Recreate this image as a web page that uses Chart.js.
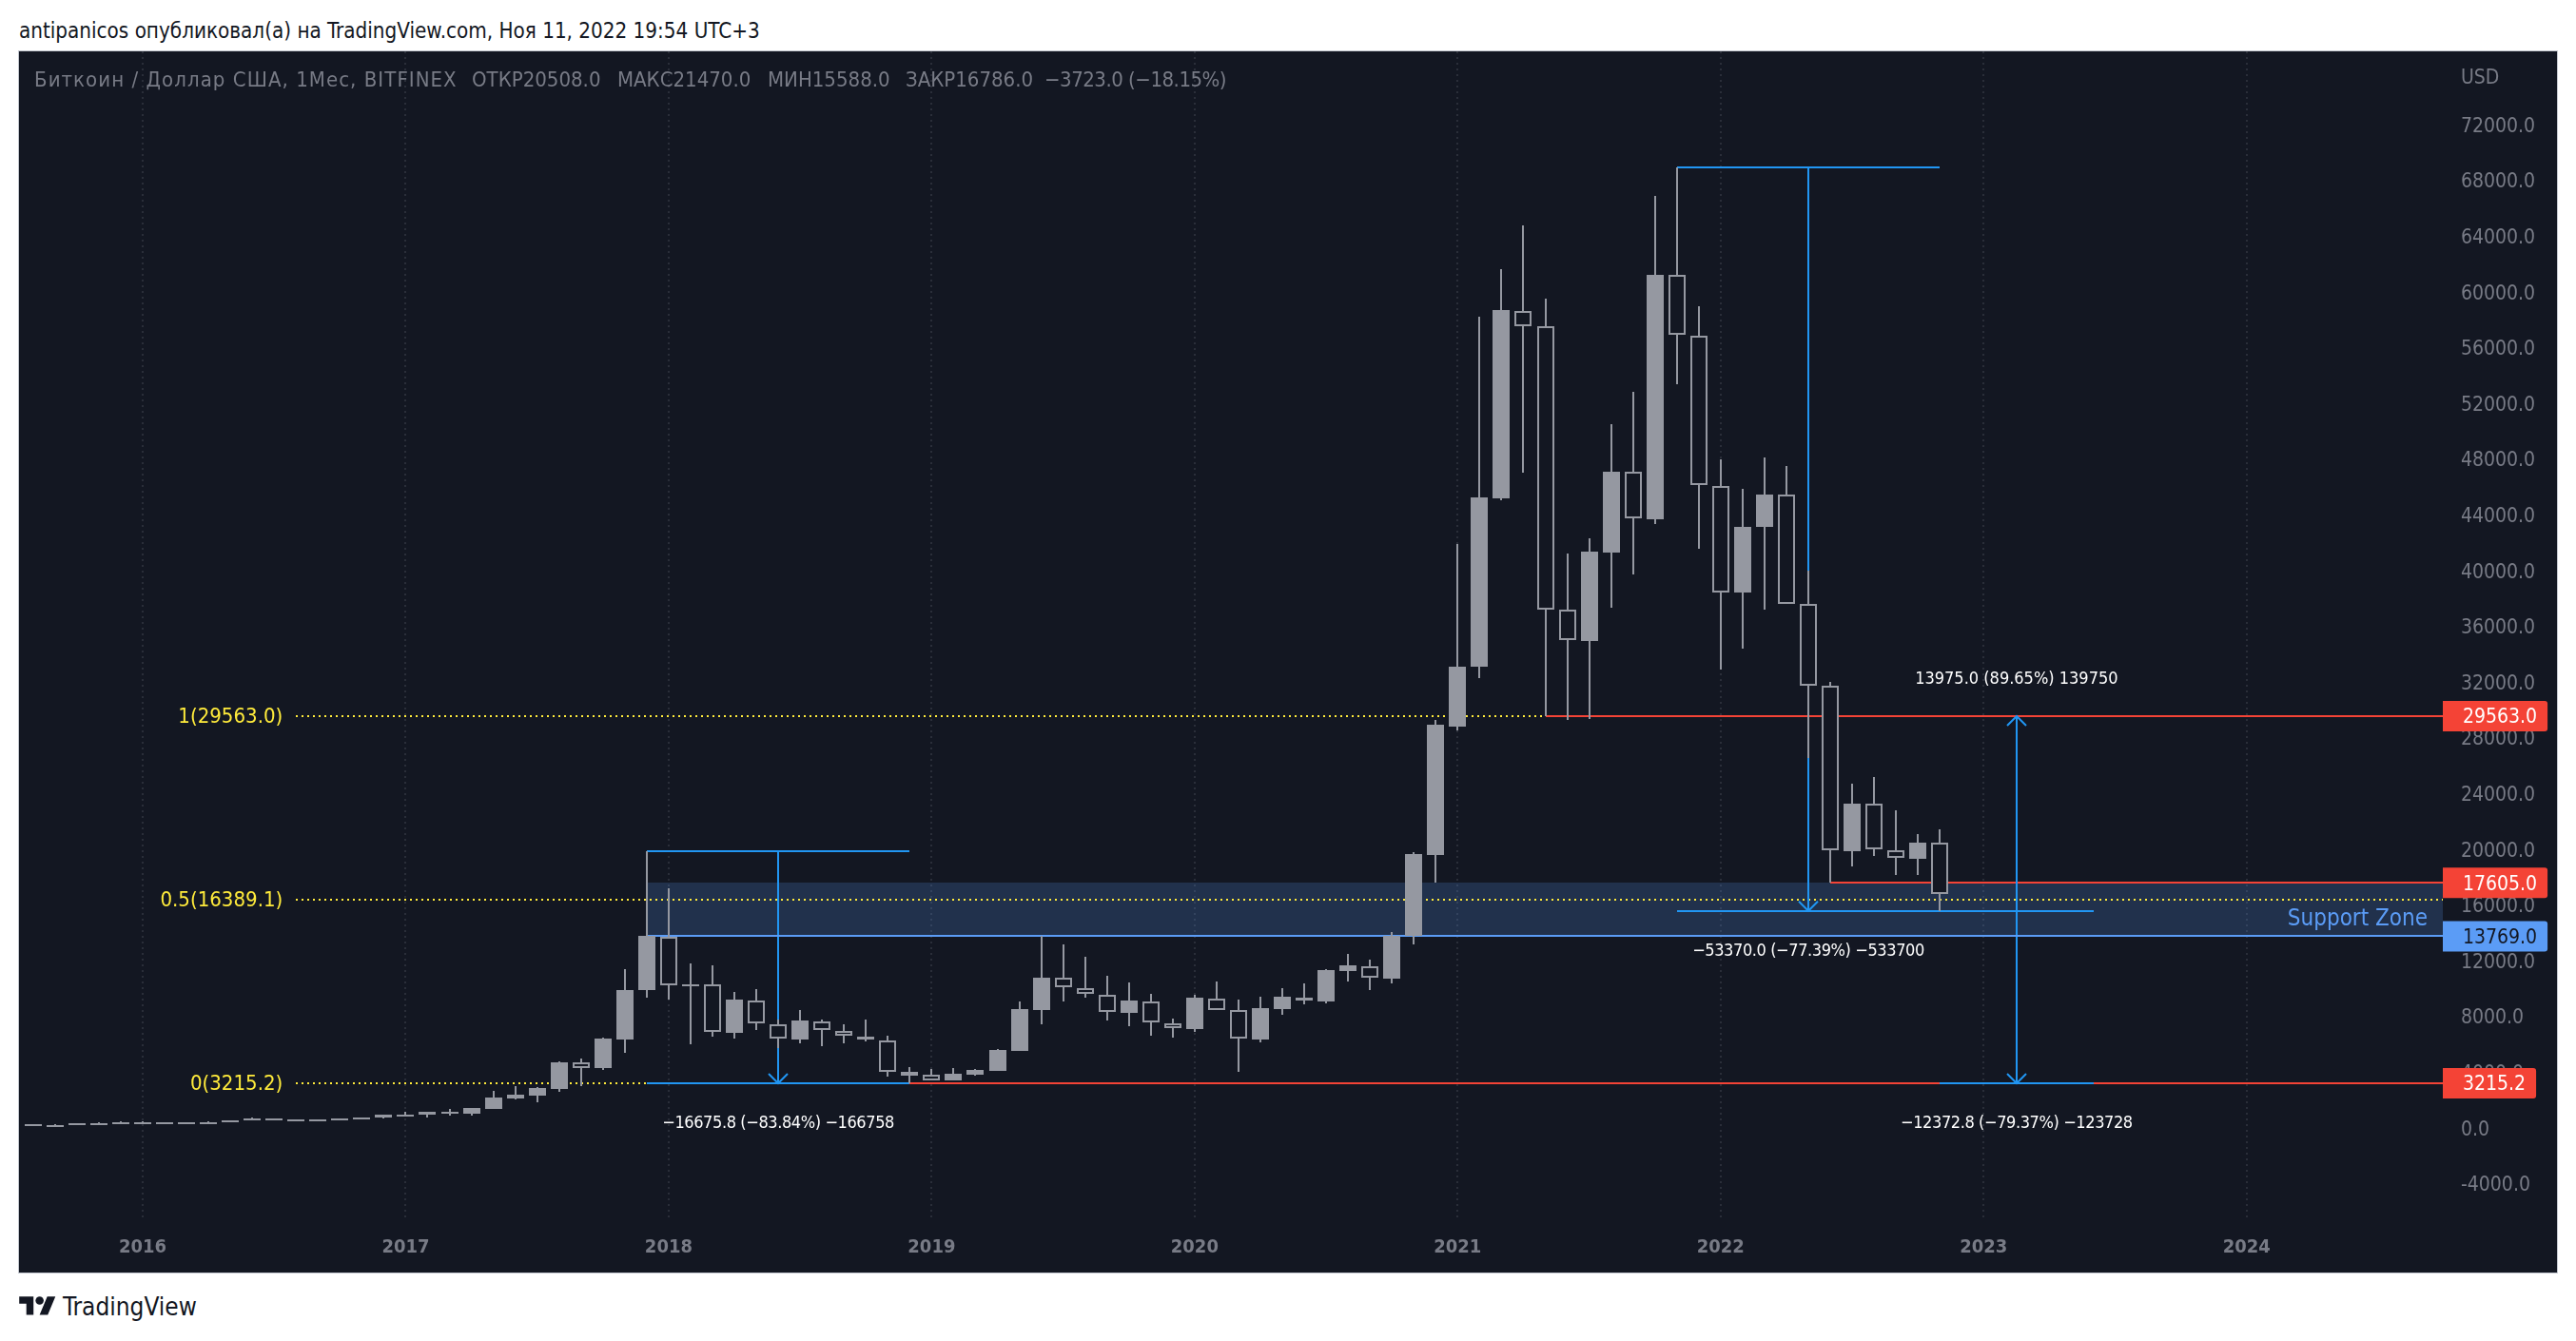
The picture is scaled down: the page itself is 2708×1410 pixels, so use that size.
<!DOCTYPE html>
<html>
<head>
<meta charset="utf-8">
<title>BTCUSD</title>
<script src="https://cdn.jsdelivr.net/npm/chart.js@4/dist/chart.umd.min.js"></script>
<style>
    html, body { margin: 0; background: #fff; width: 2708px; height: 1410px; overflow: hidden; font-family: "DejaVu Sans Condensed", "DejaVu Sans", sans-serif; }
    #autor { position: absolute; left: 20px; top: 18px; font-size: 22.25px; line-height: 28px; color: #131722; white-space: nowrap; }
    #painel { position: absolute; left: 20px; top: 54px; width: 2668px; height: 1284px; background: #131722; outline: 1px solid #c4c8d0; }
    #painel canvas { position: absolute; left: 0; top: 0; }
    #legenda { position: absolute; left: 16px; top: 16px; font-size: 22px; line-height: 28px; color: #787b86; white-space: pre; }
    #legenda span { position: absolute; top: 0; }
    #moeda { position: absolute; left: 2567px; top: 14px; font-size: 21px; line-height: 26px; color: #787b86; }
    #marca { position: absolute; left: 20px; top: 1358px; height: 32px; display: flex; align-items: center; color: #131722; font-size: 26px; }
    #marca svg { width: 39px; height: 30px; margin-right: 7px; }
</style>
</head>
<body>
<div id="autor">antipanicos опубликовал(а) на TradingView.com, Ноя 11, 2022 19:54 UTC+3</div>
<div id="painel">
    <canvas id="grafico" width="2668" height="1284"></canvas>
    <div id="legenda"><span style="left:0;letter-spacing:1.05px">Биткоин / Доллар США, 1Мес, BITFINEX</span><span style="left:460px">ОТКР20508.0</span><span style="left:613px">МАКС21470.0</span><span style="left:771px">МИН15588.0</span><span style="left:916px">ЗАКР16786.0</span><span style="left:1062px;letter-spacing:-0.5px">−3723.0 (−18.15%)</span></div>
    <div id="moeda">USD</div>
</div>
<div id="marca">
    <svg viewBox="0 0 36 28"><path fill="#131722" d="M14 22H7V11H0V4h14v18zM28 22h-8l7.5-18h8L28 22z"/><circle fill="#131722" cx="20" cy="8" r="4"/></svg>
    <span>TradingView</span>
</div>
<script>
// monthly candles, Aug 2015 to Nov 2022
const firstMonth = -5; // months counted from Jan 2016
const opens = [285, 230, 236, 315, 377, 430, 370, 437, 416, 448, 530, 670, 624, 574, 609, 700, 740, 963, 970, 1190,
    1055, 1373, 2124, 2351, 2829, 4694, 4330, 6380, 9870, 13700, 10200, 10293, 6857, 9178, 7472, 6380, 7676, 6994, 6561, 6311,
    3786, 3809, 3445, 3832, 4127, 5560, 8496, 10770, 10065, 9587, 8290, 9110, 7540, 7130, 9314, 8495, 6380, 8563, 9382, 9110,
    11294, 11635, 10748, 13769, 19598, 28816, 33079, 45220, 58655, 57522, 37180, 34967, 41307, 47081, 43708, 61218, 56875, 46110, 38420, 43115,
    45463, 37584, 31718, 19869, 23258, 19967, 19357, 20508];
const highs = [285, 250, 330, 390, 470, 470, 445, 450, 470, 550, 780, 680, 630, 620, 720, 745, 990, 1150, 1200, 1350,
    1450, 2647, 3011, 2920, 4763, 4968, 6469, 11385, 19891, 17208, 11794, 11658, 9746, 9951, 7813, 8450, 7790, 7449, 7790, 6607,
    4355, 4218, 4287, 4218, 5650, 9064, 13800, 13159, 12295, 10930, 10429, 9633, 7858, 9565, 10497, 9200, 9428, 10042, 10383, 11408,
    12499, 12067, 14069, 19802, 29301, 41927, 58224, 61650, 64780, 59519, 41253, 42332, 50535, 52855, 66911, 68958, 58979, 47998, 45894, 48133,
    47513, 40012, 31986, 24721, 25184, 22795, 21088, 21470];
const lows = [200, 220, 236, 300, 350, 350, 370, 385, 416, 440, 530, 610, 480, 574, 600, 700, 720, 880, 750, 895,
    890, 1340, 2055, 1873, 2624, 3034, 4194, 5422, 9383, 9246, 6038, 6561, 6425, 7062, 5765, 6107, 5880, 6107, 6243, 3718,
    3215.2, 3400, 3400, 3786, 4127, 5560, 7472, 9110, 9383, 7745, 7312, 6630, 6493, 6926, 8495, 4059, 6152, 8154, 8905, 8973,
    10520, 9906, 10406, 13182, 17618, 28546, 32323, 45057, 47054, 29571, 29301, 29355, 37314, 39715, 43331, 53395, 41604, 32917, 34428, 37179,
    37600, 26574, 17605, 18772, 19552, 18187, 18187, 15588];
const closes = [230, 236, 315, 377, 430, 370, 437, 416, 448, 530, 670, 624, 574, 609, 700, 740, 963, 970, 1168, 1075,
    1441, 2192, 2397, 2874, 4694, 4330, 6400, 9883, 13769, 10247, 10320, 6903, 9200, 7494, 6425, 7700, 7017, 6607, 6334, 4013,
    4013, 3445, 3877, 4150, 5606, 8518, 10770, 10088, 9610, 8313, 9132, 7563, 7153, 9337, 8495, 6425, 8586, 9405, 9132, 11340,
    11658, 10770, 13773, 19665, 28950, 33132, 45273, 58710, 57522, 37180, 35021, 41388, 47108, 43762, 61245, 56902, 46137, 38447, 43169, 45490,
    37611, 31757, 19918, 23282, 20040, 19382, 20479, 16786];

const yearTicks = [0, 12, 24, 36, 48, 60, 72, 84, 96];
const yearLabels = ['2016', '2017', '2018', '2019', '2020', '2021', '2022', '2023', '2024'];
const priceTicks = [-4000, 0, 4000, 8000, 12000, 16000, 20000, 24000, 28000, 32000, 36000, 40000, 44000, 48000, 52000, 56000, 60000, 64000, 68000, 72000];

// visible window of the scales
const xMin = -5.64;
const xMax = 104.95;
const yMin = -6410;
const yMax = 77276;

// fib levels and horizontal price levels
const fibValues = [29563.0, 16389.1, 3215.2];
const fibLabels = ['1(29563.0)', '0.5(16389.1)', '0(3215.2)'];
const fibStart = 7;
const zoneTop = 17605.0;
const zoneBottom = 13769.0;
const zoneStart = 23;
const redLevels = [29563.0, 17605.0, 3215.2];
const redStarts = [64, 77, 35];

// measure tools: horizontal segments [x1, x2, price], arrows [x, from, to, both ends]
const measureLines = [[23, 35, 19891], [23, 35, 3215.2], [70, 82, 68958], [70, 89, 15588], [82, 89, 3215.2]];
const arrows = [[29, 19891, 3215.2, false], [76, 68958, 15588, false], [85.5, 29563, 3215.2, true]];
const measureTexts = ['−16675.8 (−83.84%) −166758', '−53370.0 (−77.39%) −533700', '13975.0 (89.65%) 139750', '−12372.8 (−79.37%) −123728'];
const measureTextX = [29, 76, 85.5, 85.5];
const measureTextY = [300, 12680, 32200, 300];

const zoneText = 'Support Zone';
const zoneTextY = 14950;

const cinza = '#9598a1';
const fundo = '#131722';
const azul = '#2196f3';
const azulZona = '#5b9cf6';
const vermelho = '#f44336';
const amarelo = '#ffeb3b';
const fonte = '"DejaVu Sans Condensed", "DejaVu Sans", sans-serif';

const xs = opens.map((_, i) => firstMonth + i);
const subiu = opens.map((o, i) => closes[i] >= o);

function linha(pontos, cor, extra) {
    return Object.assign({
        type: 'line',
        data: pontos,
        borderColor: cor,
        borderWidth: 2,
        pointRadius: 0,
        fill: false,
        tension: 0,
        order: 3
    }, extra);
}

const datasets = [
    { label: 'corpo', data: xs.map((x, i) => ({ x: x, y: [opens[i], closes[i]] })), barThickness: 18, grouped: false, order: 0,
      backgroundColor: subiu.map(s => s ? cinza : fundo), borderColor: cinza, borderWidth: subiu.map(s => s ? 0 : 2), borderSkipped: false, inflateAmount: 0 },
    { label: 'pavio', data: xs.map((x, i) => ({ x: x, y: [lows[i], highs[i]] })), barThickness: 2, grouped: false, order: 1,
      backgroundColor: cinza, borderWidth: 0, inflateAmount: 0 }
];

// zone fill sits between two neighbouring datasets
datasets.push(linha([{ x: zoneStart, y: zoneTop }, { x: xMax, y: zoneTop }], 'rgba(0,0,0,0)', { fill: '+1', backgroundColor: 'rgba(91,156,246,0.2)', order: 6 }));
datasets.push(linha([{ x: zoneStart, y: zoneBottom }, { x: xMax, y: zoneBottom }], azulZona, { order: 3 }));

fibValues.forEach(v => {
    datasets.push(linha([{ x: fibStart, y: v }, { x: xMax, y: v }], amarelo, { borderDash: [2, 4], order: 5 }));
});
redLevels.forEach((v, i) => {
    datasets.push(linha([{ x: redStarts[i], y: v }, { x: xMax, y: v }], vermelho, { order: 4 }));
});
measureLines.forEach(m => {
    datasets.push(linha([{ x: m[0], y: m[2] }, { x: m[1], y: m[2] }], azul, { order: 3 }));
});
arrows.forEach(a => {
    datasets.push(linha([{ x: a[0], y: a[1] }, { x: a[0], y: a[2] }], azul, { order: 3 }));
});

// keeps marks on whole pixels so they stay sharp
const encaixe = {
    id: 'encaixe',
    afterDatasetsUpdate(chart) {
        chart.data.datasets.forEach((ds, d) => {
            chart.getDatasetMeta(d).data.forEach(el => {
                el.x = Math.round(el.x);
                el.y = Math.round(el.y);
                if (el.base !== undefined) {
                    el.base = Math.round(el.base);
                    if (d === 0 && Math.abs(el.base - el.y) < 2) {
                        el.base = el.y + 2;
                    }
                }
            });
        });
    }
};

const pontas = {
    id: 'pontas',
    beforeDatasetDraw(chart, args) {
        if (args.index !== 1) {
            return;
        }
        const ctx = chart.ctx;
        ctx.save();
        ctx.strokeStyle = azul;
        ctx.lineWidth = 2;
        arrows.forEach(a => {
            const x = Math.round(chart.scales.x.getPixelForValue(a[0]));
            const fim = chart.scales.y.getPixelForValue(a[2]);
            ctx.beginPath();
            ctx.moveTo(x - 10, fim - 10);
            ctx.lineTo(x, fim);
            ctx.lineTo(x + 10, fim - 10);
            ctx.stroke();
            if (a[3]) {
                const ini = chart.scales.y.getPixelForValue(a[1]);
                ctx.beginPath();
                ctx.moveTo(x - 10, ini + 10);
                ctx.lineTo(x, ini);
                ctx.lineTo(x + 10, ini + 10);
                ctx.stroke();
            }
        });
        ctx.restore();
    }
};

function etiqueta(ctx, y, direita, valor, corFundo, corTexto) {
    const texto = valor.toFixed(1);
    ctx.font = '21px ' + fonte;
    const largura = ctx.measureText(texto).width + 32;
    ctx.fillStyle = corFundo;
    ctx.beginPath();
    ctx.roundRect(direita, y - 16, largura, 32, [0, 3, 3, 0]);
    ctx.fill();
    ctx.fillStyle = corTexto;
    ctx.textAlign = 'left';
    ctx.fillText(texto, direita + 21, y + 2);
}

const textos = {
    id: 'textos',
    afterDraw(chart) {
        const ctx = chart.ctx;
        const sx = chart.scales.x;
        const sy = chart.scales.y;
        ctx.save();
        ctx.textBaseline = 'middle';

        ctx.font = '22px ' + fonte;
        ctx.fillStyle = amarelo;
        ctx.textAlign = 'right';
        fibLabels.forEach((t, i) => {
            ctx.fillText(t, sx.getPixelForValue(fibStart) - 14, sy.getPixelForValue(fibValues[i]) + 1);
        });

        ctx.font = '18px ' + fonte;
        ctx.fillStyle = '#ffffff';
        ctx.textAlign = 'center';
        measureTexts.forEach((t, i) => {
            ctx.letterSpacing = t.startsWith('−') ? '-0.4px' : '0px';
            ctx.fillText(t, sx.getPixelForValue(measureTextX[i]), sy.getPixelForValue(measureTextY[i]));
        });
        ctx.letterSpacing = '0px';

        ctx.font = '24px ' + fonte;
        ctx.fillStyle = azulZona;
        ctx.textAlign = 'right';
        ctx.fillText(zoneText, chart.chartArea.right - 16, sy.getPixelForValue(zoneTextY));

        const direita = chart.chartArea.right;
        etiqueta(ctx, sy.getPixelForValue(29563.0), direita, 29563.0, vermelho, '#ffffff');
        etiqueta(ctx, sy.getPixelForValue(17605.0), direita, 17605.0, vermelho, '#ffffff');
        etiqueta(ctx, sy.getPixelForValue(13769.0), direita, 13769.0, azulZona, fundo);
        etiqueta(ctx, sy.getPixelForValue(3215.2), direita, 3215.2, vermelho, '#ffffff');
        ctx.restore();
    }
};

new Chart(document.getElementById('grafico'), {
    type: 'bar',
    data: { datasets: datasets },
    options: {
        responsive: false,
        devicePixelRatio: 1,
        animation: false,
        layout: { padding: 0, autoPadding: false },
        plugins: { legend: { display: false }, tooltip: { enabled: false } },
        scales: {
            x: {
                type: 'linear',
                min: xMin,
                max: xMax,
                offset: false,
                afterBuildTicks(scale) { scale.ticks = yearTicks.map(v => ({ value: v })); },
                afterFit(scale) { scale.height = 58; scale.paddingLeft = 0; scale.paddingRight = 0; },
                grid: { offset: false, color: '#2a2e39', lineWidth: 2, drawTicks: false },
                border: { display: false, dash: [2, 4] },
                ticks: {
                    autoSkip: false,
                    maxRotation: 0,
                    padding: 20,
                    color: '#787b86',
                    font: { family: fonte, size: 20, weight: 'bold' },
                    callback: v => yearLabels[yearTicks.indexOf(v)]
                }
            },
            y: {
                position: 'right',
                min: yMin,
                max: yMax,
                afterBuildTicks(scale) { scale.ticks = priceTicks.map(v => ({ value: v })); },
                afterFit(scale) { scale.width = 120; scale.paddingTop = 0; scale.paddingBottom = 0; },
                grid: { display: false, drawTicks: false },
                border: { display: false },
                ticks: {
                    padding: 19,
                    labelOffset: 2,
                    color: '#787b86',
                    font: { family: fonte, size: 21 },
                    callback: v => v.toFixed(1)
                }
            }
        }
    },
    plugins: [encaixe, pontas, textos]
});
</script>
</body>
</html>
